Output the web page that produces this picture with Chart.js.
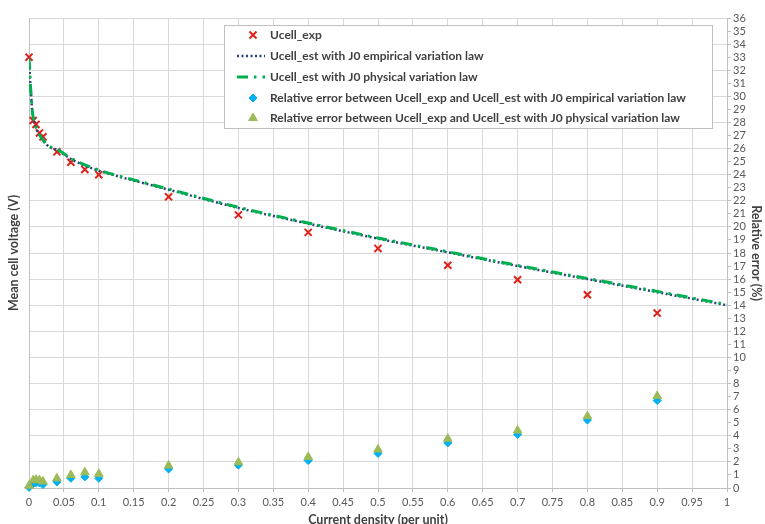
<!DOCTYPE html>
<html>
<head>
<meta charset="utf-8">
<script src="https://cdn.jsdelivr.net/npm/chart.js@4.4.1/dist/chart.umd.min.js"></script>
<style>
  html, body { margin: 0; padding: 0; background: #fff; }
  #wrap { width: 765px; height: 524px; }
</style>
</head>
<body>
<div id="wrap"><canvas id="chart" width="765" height="524"></canvas></div>
<script>
// measured points (current density in per unit)
const expDensity = [0, 0.006, 0.01, 0.015, 0.02, 0.04, 0.06, 0.08, 0.1, 0.2, 0.3, 0.4, 0.5, 0.6, 0.7, 0.8, 0.9];
const ucellExp = [33.0, 28.15, 27.85, 27.2, 26.9, 25.75, 24.95, 24.4, 24.0, 22.3, 20.92, 19.58, 18.35, 17.06, 15.95, 14.8, 13.4];

// estimated curves
const estDensity = [0, 0.001, 0.002, 0.003, 0.005, 0.0075, 0.01, 0.015, 0.02, 0.03, 0.04, 0.06, 0.08, 0.1, 0.15, 0.2, 0.3, 0.4, 0.5, 0.6, 0.7, 0.8, 0.9, 1];
const ucellEstEmpirical = [32.9, 31.8, 30.9, 30.1, 28.7, 28.0, 27.6, 27.0, 26.6, 26.1, 25.9, 25.2, 24.7, 24.3, 23.55, 22.85, 21.45, 20.25, 19.1, 18.05, 17.0, 16.0, 15.0, 14.0];
const ucellEstPhysical = [32.9, 31.8, 30.9, 30.1, 28.75, 28.05, 27.65, 27.05, 26.65, 26.15, 25.95, 25.25, 24.75, 24.35, 23.6, 22.9, 21.5, 20.3, 19.15, 18.1, 17.05, 16.05, 15.06, 14.05];

// relative errors (%), same densities as the measured points
const errEmpirical = [0.05, 0.33, 0.4, 0.38, 0.26, 0.46, 0.74, 0.85, 0.74, 1.45, 1.75, 2.1, 2.65, 3.45, 4.1, 5.2, 6.7];
const errPhysical = [0.18, 0.6, 0.64, 0.6, 0.5, 0.74, 1.0, 1.2, 1.08, 1.72, 1.97, 2.38, 2.95, 3.77, 4.4, 5.5, 7.05];

const seriesNames = [
    'Ucell_exp',
    'Ucell_est with J0 empirical variation law',
    'Ucell_est with J0 physical variation law',
    'Relative error between Ucell_exp and Ucell_est with J0 empirical variation law',
    'Relative error between Ucell_exp and Ucell_est with J0 physical variation law'
];

const FONT = 'Lato, "Open Sans", sans-serif';
const GRID = '#d9d9d9';
const AXIS = '#bfbfbf';
const TICK = '#595959';
const TITLE = '#404040';

const toPoints = (xs, ys) => xs.map((x, i) => ({ x, y: ys[i] }));

// legend box drawn inside the plot, like the spreadsheet one
const boxLegend = {
    id: 'boxLegend',
    afterDraw(chart) {
        const ctx = chart.ctx;
        const area = chart.chartArea;
        const left = area.left + 195, top = area.top + 7, w = 488, h = 103;
        ctx.save();
        ctx.fillStyle = '#fff';
        ctx.fillRect(left, top, w, h);
        ctx.strokeStyle = '#bfbfbf';
        ctx.lineWidth = 1;
        ctx.strokeRect(left + 0.5, top + 0.5, w, h);

        const symX = left + 29;
        const textX = left + 46;
        const rows = [10, 31, 52, 73, 93];
        chart.data.datasets.forEach((ds, i) => {
            const y = top + rows[i];
            ctx.save();
            ctx.strokeStyle = ds.borderColor;
            ctx.fillStyle = ds.backgroundColor || ds.borderColor;
            ctx.lineWidth = ds.borderWidth;
            if (ds.showLine) {
                ctx.setLineDash(ds.borderDash);
                ctx.beginPath();
                ctx.moveTo(symX - 16, y);
                ctx.lineTo(symX + 12, y);
                ctx.stroke();
            } else {
                Chart.helpers.drawPoint(ctx, {
                    pointStyle: ds.pointStyle,
                    radius: ds.pointRadius,
                    rotation: 0,
                    borderWidth: ds.borderWidth
                }, symX, y);
            }
            ctx.restore();
            ctx.font = 'bold 12px ' + FONT;
            ctx.fillStyle = TITLE;
            ctx.textBaseline = 'middle';
            ctx.fillText(seriesNames[i], textX, y, 428);
        });
        ctx.restore();
    }
};

const ctx = document.getElementById('chart').getContext('2d');
const chart = new Chart(ctx, {
    type: 'scatter',
    data: {
        datasets: [
            {
                label: seriesNames[0],
                data: toPoints(expDensity, ucellExp),
                yAxisID: 'y',
                showLine: false,
                pointStyle: 'crossRot',
                pointRadius: 5,
                borderColor: '#e0201b',
                backgroundColor: '#e0201b',
                borderWidth: 2,
                order: 5,
                clip: false
            },
            {
                label: seriesNames[1],
                data: toPoints(estDensity, ucellEstEmpirical),
                yAxisID: 'y',
                showLine: true,
                pointRadius: 0,
                borderColor: '#264478',
                borderWidth: 2.5,
                borderDash: [2, 2.5],
                cubicInterpolationMode: 'monotone',
                order: 4
            },
            {
                label: seriesNames[2],
                data: toPoints(estDensity, ucellEstPhysical),
                yAxisID: 'y',
                showLine: true,
                pointRadius: 0,
                borderColor: '#00b050',
                borderWidth: 3,
                borderDash: [11, 6, 2.5, 6],
                cubicInterpolationMode: 'monotone',
                order: 3
            },
            {
                label: seriesNames[3],
                data: toPoints(expDensity, errEmpirical),
                yAxisID: 'y2',
                showLine: false,
                pointStyle: 'rectRot',
                pointRadius: 4,
                borderColor: '#00b0f0',
                backgroundColor: '#00b0f0',
                borderWidth: 1,
                order: 2,
                clip: false
            },
            {
                label: seriesNames[4],
                data: toPoints(expDensity, errPhysical),
                yAxisID: 'y2',
                showLine: false,
                pointStyle: 'triangle',
                pointRadius: 5,
                borderColor: '#9bbb59',
                backgroundColor: '#9bbb59',
                borderWidth: 1,
                order: 1,
                clip: false
            }
        ]
    },
    options: {
        responsive: false,
        animation: false,
        layout: { padding: { top: 18, left: 0, right: 0, bottom: 0 } },
        plugins: {
            legend: { display: false },
            tooltip: { enabled: false }
        },
        scales: {
            x: {
                type: 'linear',
                min: 0,
                max: 1,
                ticks: {
                    stepSize: 0.05,
                    color: TICK,
                    font: { family: FONT, size: 11 },
                    padding: 4,
                    maxRotation: 0,
                    autoSkip: false,
                    callback: v => String(Math.round(v * 100) / 100)
                },
                grid: { color: GRID, tickLength: 4, tickColor: AXIS },
                border: { color: AXIS },
                title: {
                    display: true,
                    text: 'Current density (per unit)',
                    color: TITLE,
                    font: { family: FONT, size: 12.5, weight: 'bold' },
                    padding: { top: 0, bottom: -3 }
                },
                afterFit: s => { s.height = 36; }
            },
            y: {
                position: 'left',
                min: 0,
                max: 36,
                ticks: { stepSize: 2, display: false },
                grid: { color: GRID, drawTicks: false },
                border: { color: AXIS },
                title: {
                    display: true,
                    text: 'Mean cell voltage (V)',
                    color: TITLE,
                    font: { family: FONT, size: 12.5, weight: 'bold' },
                    padding: { top: 6, bottom: 0 }
                },
                afterFit: s => { s.width = 29; }
            },
            y2: {
                position: 'right',
                min: 0,
                max: 36,
                ticks: {
                    stepSize: 1,
                    autoSkip: false,
                    color: TICK,
                    font: { family: FONT, size: 11 },
                    padding: 2
                },
                grid: { drawOnChartArea: false, tickLength: 4, color: AXIS },
                border: { color: AXIS },
                title: {
                    display: true,
                    text: 'Relative error (%)',
                    color: TITLE,
                    font: { family: FONT, size: 12.5, weight: 'bold' },
                    padding: { top: 1, bottom: 0 }
                },
                afterFit: s => { s.width = 38; }
            }
        }
    },
    plugins: [boxLegend]
});
</script>
</body>
</html>
